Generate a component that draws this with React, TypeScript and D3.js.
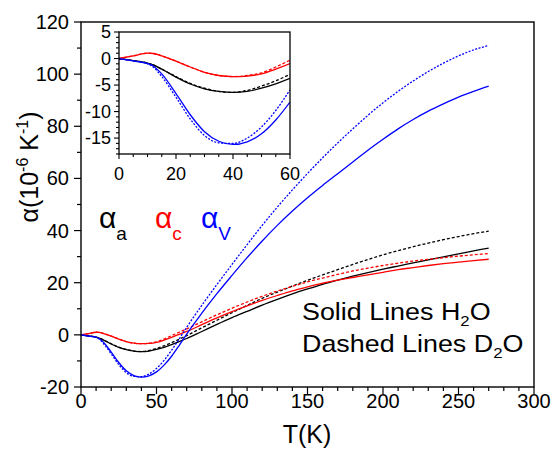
import * as d3 from 'd3';

// temperature grid (K) shared by all series
const temps = [0, 5, 10, 12, 15, 20, 25, 30, 35, 40, 45, 50, 55, 60, 65, 70, 80, 90, 100, 110, 120, 130, 140, 150, 160, 170, 180, 190, 200, 210, 220, 230, 240, 250, 260, 270];

// alpha_a (black)
const aaH2O = [0, -0.4, -0.85, -1.2, -2.0, -3.5, -4.8, -5.7, -6.2, -6.4, -6.2, -5.6, -4.8, -3.75, -2.6, -1.4, 1.3, 4.0, 6.6, 9.0, 11.4, 13.6, 15.7, 17.6, 19.4, 21.0, 22.5, 23.9, 25.2, 26.4, 27.6, 28.8, 29.9, 31.1, 32.2, 33.3];
const aaD2O = [0, -0.4, -0.85, -1.2, -2.0, -3.4, -4.7, -5.6, -6.2, -6.4, -6.0, -5.2, -4.2, -3.0, -1.7, -0.3, 2.7, 5.6, 8.5, 11.3, 14.0, 16.4, 18.7, 20.9, 23.0, 25.0, 27.0, 28.9, 30.7, 32.3, 33.8, 35.2, 36.5, 37.7, 38.8, 39.8];

// alpha_c (red)
const acH2O = [0, 0.5, 1.0, 0.95, 0.5, -0.5, -1.6, -2.6, -3.2, -3.4, -3.3, -2.9, -2.0, -0.95, 0.2, 1.3, 3.9, 6.5, 8.9, 11.1, 13.2, 15.1, 16.9, 18.4, 19.8, 21.0, 22.0, 23.0, 24.0, 25.0, 25.8, 26.6, 27.3, 27.9, 28.5, 29.0];
const acD2O = [0, 0.5, 1.0, 0.95, 0.5, -0.5, -1.6, -2.6, -3.2, -3.4, -3.2, -2.7, -1.6, -0.3, 1.0, 2.3, 5.0, 7.7, 10.2, 12.6, 14.8, 16.8, 18.6, 20.3, 21.8, 23.2, 24.5, 25.6, 26.6, 27.5, 28.3, 29.0, 29.6, 30.2, 30.7, 31.2];

// alpha_V (blue)
const avH2O = [0, -0.45, -0.95, -1.4, -2.9, -6.6, -10.6, -13.8, -15.6, -16.2, -15.7, -14.2, -11.6, -8.2, -4.1, 0.3, 8.3, 15.8, 22.8, 29.6, 36.0, 42.0, 47.5, 52.6, 57.3, 61.8, 66.3, 70.8, 75.0, 79.0, 82.6, 85.8, 88.6, 91.2, 93.4, 95.4];
const avD2O = [0, -0.45, -0.95, -1.6, -3.4, -7.3, -11.4, -14.5, -15.9, -16.0, -15.0, -12.9, -9.8, -5.9, -1.6, 2.9, 11.3, 19.3, 27.0, 34.6, 42.0, 49.0, 55.6, 61.9, 67.9, 73.6, 79.0, 84.2, 89.0, 93.4, 97.4, 101.0, 104.2, 107.0, 109.3, 111.0];

const mainXTicks = [0, 50, 100, 150, 200, 250, 300];
const mainYTicks = [-20, 0, 20, 40, 60, 80, 100, 120];
const insetXTicks = [0, 20, 40, 60];
const insetYTicks = [-15, -10, -5, 0, 5];

const font = '"Liberation Sans", Arial, sans-serif';

const series = [
  { values: aaH2O, color: '#000000', dash: null },
  { values: aaD2O, color: '#000000', dash: '3,2' },
  { values: acH2O, color: '#ff0000', dash: null },
  { values: acD2O, color: '#ff0000', dash: '3,2' },
  { values: avH2O, color: '#0000ff', dash: null },
  { values: avD2O, color: '#0000ff', dash: '2,1.5' },
];

export default function App() {
  const width = 552;
  const height = 449;

  // main plot scales
  const x = d3.scaleLinear().domain([0, 300]).range([81, 534]);
  const y = d3.scaleLinear().domain([-20, 120]).range([387, 22]);

  // inset scales
  const ix = d3.scaleLinear().domain([0, 60]).range([119, 290]);
  const iy = d3.scaleLinear().domain([-18, 5]).range([154, 32]);

  const mainLine = d3
    .line<number>()
    .x((_, i) => x(temps[i]))
    .y((d) => y(d))
    .curve(d3.curveMonotoneX);

  const insetLine = d3
    .line<number>()
    .x((_, i) => ix(temps[i]))
    .y((d) => iy(d))
    .curve(d3.curveMonotoneX);

  const mainXMinor = d3.range(0, 301, 10);
  const mainYMinor = d3.range(-20, 121, 10);
  const insetXMinor = d3.range(0, 61, 5);
  const insetYMinor = d3.range(-18, 6, 1);

  return (
    <svg width={width} height={height} style={{ position: 'absolute', left: 0, top: 0, background: '#fff' }} fontFamily={font}>
      <defs>
        <clipPath id="mainClip">
          <rect x={81} y={22} width={453} height={365} />
        </clipPath>
        <clipPath id="insetClip">
          <rect x={119} y={32} width={171} height={122} />
        </clipPath>
      </defs>

      {/* main curves */}
      <g clipPath="url(#mainClip)">
        {series.map((s, i) => (
          <path key={i} d={mainLine(s.values) ?? ''} fill="none" stroke={s.color} strokeWidth={1.3} strokeDasharray={s.dash ?? undefined} />
        ))}
      </g>

      {/* main frame */}
      <rect x={81} y={22} width={453} height={365} fill="none" stroke="#000" strokeWidth={1.4} />

      {/* main x axis ticks */}
      {mainXMinor.map((t) => (
        <line key={`mx${t}`} x1={x(t)} x2={x(t)} y1={387} y2={t % 50 === 0 ? 394 : 391} stroke="#000" strokeWidth={1.2} />
      ))}
      {mainXTicks.map((t) => (
        <text key={`mxl${t}`} x={x(t)} y={408} fontSize={20} textAnchor="middle">
          {t}
        </text>
      ))}

      {/* main y axis ticks */}
      {mainYMinor.map((t) => (
        <line key={`my${t}`} x1={t % 20 === 0 ? 74 : 77} x2={81} y1={y(t)} y2={y(t)} stroke="#000" strokeWidth={1.2} />
      ))}
      {mainYTicks.map((t) => (
        <text key={`myl${t}`} x={69} y={y(t) + 7} fontSize={20} textAnchor="end">
          {t}
        </text>
      ))}

      {/* axis titles */}
      <text x={307} y={443} fontSize={25} textAnchor="middle">
        T(K)
      </text>
      <text transform="translate(38, 167) rotate(-90)" fontSize={25} textAnchor="middle">
        α(10
        <tspan dy={-10} fontSize={16}>-6</tspan>
        <tspan dy={10}> K</tspan>
        <tspan dy={-10} fontSize={16}>-1</tspan>
        <tspan dy={10}>)</tspan>
      </text>

      {/* legend */}
      <text x={99} y={228} fontSize={30} fill="#000">
        α<tspan dy={12} fontSize={19}>a</tspan>
      </text>
      <text x={155} y={228} fontSize={30} fill="#ff0000">
        α<tspan dy={12} fontSize={19}>c</tspan>
      </text>
      <text x={201} y={228} fontSize={30} fill="#0000ff">
        α<tspan dy={12} fontSize={19}>V</tspan>
      </text>

      <text transform="translate(302, 320) scale(1.12, 1)" fontSize={24}>
        Solid Lines H<tspan dy={6} fontSize={15}>2</tspan>
        <tspan dy={-6}>O</tspan>
      </text>
      <text transform="translate(302, 352) scale(1.12, 1)" fontSize={24}>
        Dashed Lines D<tspan dy={6} fontSize={15}>2</tspan>
        <tspan dy={-6}>O</tspan>
      </text>

      {/* inset */}
      <rect x={119} y={32} width={171} height={122} fill="#fff" />
      <g clipPath="url(#insetClip)">
        {series.map((s, i) => (
          <path key={i} d={insetLine(s.values.slice(0, 14)) ?? ''} fill="none" stroke={s.color} strokeWidth={1.3} strokeDasharray={s.dash ?? undefined} />
        ))}
      </g>
      <rect x={119} y={32} width={171} height={122} fill="none" stroke="#000" strokeWidth={1.3} />
      {insetXMinor.map((t) => (
        <line key={`ix${t}`} x1={ix(t)} x2={ix(t)} y1={154} y2={t % 20 === 0 ? 159 : 157} stroke="#000" strokeWidth={1.1} />
      ))}
      {insetXTicks.map((t) => (
        <text key={`ixl${t}`} x={ix(t)} y={180} fontSize={18} textAnchor="middle">
          {t}
        </text>
      ))}
      {insetYMinor.map((t) => (
        <line key={`iy${t}`} x1={t % 5 === 0 ? 114 : 116} x2={119} y1={iy(t)} y2={iy(t)} stroke="#000" strokeWidth={1.1} />
      ))}
      {insetYTicks.map((t) => (
        <text key={`iyl${t}`} x={111} y={iy(t) + 6} fontSize={18} textAnchor="end">
          {t}
        </text>
      ))}
    </svg>
  );
}
